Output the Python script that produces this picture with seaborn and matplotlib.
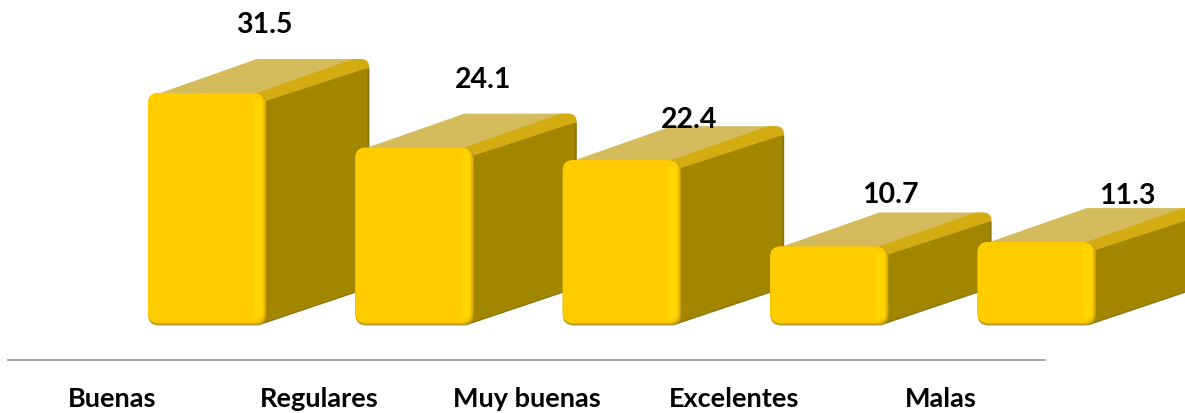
import matplotlib
matplotlib.use("Agg")
import matplotlib.pyplot as plt
import pandas as pd
import seaborn as sns
from matplotlib.patches import FancyBboxPatch, PathPatch, Polygon, Rectangle
from matplotlib.path import Path

# Chart values
categories = ["Buenas", "Regulares", "Muy buenas", "Excelentes", "Malas"]
values = [31.5, 24.1, 22.4, 10.7, 11.3]

# Label nudges from the front top-left of each bar, in pixels
label_dx = [116, 128, 126, 120, 150]
label_dy = [69, 69, 41, 53, 47]

# Fake 3D look, in pixels
SHIFT_X, SHIFT_Y = 95.5, 34.5
DEPTH_X, DEPTH_Y = 101, 34
PX_PER_UNIT = 7.38

sns.set_theme(style="white")
plt.rcParams["font.family"] = ["Lato", "DejaVu Sans"]

W, H = 1185, 414
fig = plt.figure(figsize=(W / 100, H / 100), dpi=100)
ax = fig.add_axes([8 / W, (H - 361) / H, 1037 / W, 361 / H])

df = pd.DataFrame({"categoria": categories, "valor": values})
sns.barplot(data=df, x="categoria", y="valor", ax=ax, width=0.571, color="#FFCC00")

ax.set_xlim(-0.5, 4.5)
ax.set_ylim(0, 361 / PX_PER_UNIT)
ax.set_xlabel("")
ax.set_ylabel("")
ax.set_yticks([])
ax.tick_params(axis="x", length=0, pad=18.5)
for lab in ax.get_xticklabels():
    lab.set_fontsize(19.5)
    lab.set_fontweight("bold")
    lab.set_color("black")
sns.despine(ax=ax, left=True)
ax.spines["bottom"].set_color("#999999")
ax.spines["bottom"].set_linewidth(1.2)

fig.canvas.draw()


def add(patch, z):
    patch.set_transform(None)
    patch.set_clip_on(False)
    patch.set_zorder(z)
    ax.add_artist(patch)


# Rebuild every seaborn bar as a rounded block, using its position on the axes
for i, bar in enumerate(ax.patches):
    (x0, y0), (x1, y1) = ax.transData.transform(
        [(bar.get_x(), 0), (bar.get_x() + bar.get_width(), bar.get_height())]
    )
    bar.set_visible(False)
    x0, x1 = x0 + SHIFT_X, x1 + SHIFT_X
    y0, y1 = y0 + SHIFT_Y, y1 + SHIFT_Y
    z = 3 + i * 0.1
    bx, by = x1 + DEPTH_X, y1 + DEPTH_Y

    # top face
    add(Polygon([(x0 + 12, y1), (x0 + DEPTH_X + 8, by), (bx - 6, by), (x1 - 6, y1)],
                closed=True, fc="#D4BC5C", ec="none"), z)
    # bevel between top and side
    add(PathPatch(Path([(x1 - 10, y1), (bx - 14, by), (bx - 6, by), (bx + 2, by), (bx + 2, by - 9),
                        (x1 + 4, y1 - 12), (x1 - 10, y1 - 12), (x1 - 10, y1)],
                       [Path.MOVETO, Path.LINETO, Path.LINETO, Path.CURVE3, Path.CURVE3,
                        Path.LINETO, Path.LINETO, Path.CLOSEPOLY]),
                  fc="#D2AC10", ec="none"), z)
    # side face, darker rim first
    add(Polygon([(x1 - 8, y0), (bx - 8, y0 + DEPTH_Y), (bx + 2, y0 + DEPTH_Y + 4), (bx + 2, by - 9), (x1, y1 - 8)],
                closed=True, fc="#8C7510", ec="none"), z)
    add(Polygon([(x1 - 8, y0 + 1.5), (bx, y0 + DEPTH_Y + 4), (bx, by - 9), (x1, y1 - 8)],
                closed=True, fc="#A38600", ec="none"), z)

    # front face
    add(FancyBboxPatch((x0, y0), x1 - x0, y1 - y0, boxstyle="round,pad=0,rounding_size=11",
                       fc="#B89A20", ec="none"), z)
    add(FancyBboxPatch((x0, y0 + 1.5), x1 - x0 - 1, y1 - y0 - 1.5, boxstyle="round,pad=0,rounding_size=11",
                       fc="#E8B800", ec="none"), z)
    add(FancyBboxPatch((x0, y0 + 3), x1 - x0 - 3, y1 - y0 - 3, boxstyle="round,pad=0,rounding_size=10",
                       fc="#FFCC00", ec="none"), z)
    add(Rectangle((x1 - 13, y0 + 8), 9, y1 - y0 - 14, fc="#FFD500", ec="none"), z)

    ax.annotate(f"{values[i]:.1f}", xy=(x0 - SHIFT_X, y1 - SHIFT_Y), xycoords="figure pixels",
                xytext=(label_dx[i] + SHIFT_X, label_dy[i] + SHIFT_Y), textcoords="offset pixels",
                ha="center", va="center", fontsize=20.5, fontweight="bold", color="black", zorder=10)

fig.savefig("out.png", dpi=100)
